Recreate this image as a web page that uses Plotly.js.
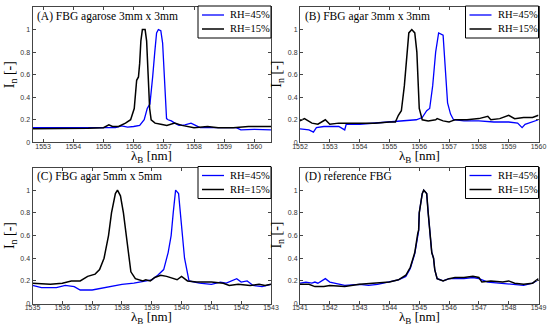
<!DOCTYPE html>
<html><head><meta charset="utf-8">
<script src="https://cdn.plot.ly/plotly-3.0.1.min.js"></script>
<style>html,body{margin:0;padding:0;background:#fff}#plot{width:550px;height:334px}</style>
</head><body><div id="plot"></div>
<script>
// Panel A: FBG agarose 3mm x 3mm
const A_x45 = [1552.65,1553.0,1553.5,1554.0,1554.5,1555.0,1555.4,1555.6,1555.8,1556.0,1556.2,1556.35,1556.45,1556.54,1556.6,1556.63,1556.7,1556.76,1556.82,1556.9,1556.96,1557.02,1557.09,1557.14,1557.25,1557.36,1557.5,1557.7,1557.9,1558.05,1558.2,1558.5,1559.0,1559.4,1559.55,1560.0,1560.55];
const A_y45 = [0.13,0.13,0.13,0.125,0.125,0.13,0.13,0.145,0.135,0.14,0.15,0.2,0.3,0.34,0.55,0.58,0.8,0.97,1.0,0.99,0.88,0.5,0.21,0.2,0.19,0.17,0.15,0.155,0.17,0.15,0.13,0.13,0.13,0.13,0.11,0.115,0.11];
const A_x15 = [1552.65,1553.0,1553.5,1554.0,1554.5,1555.0,1555.18,1555.3,1555.5,1555.73,1555.9,1556.02,1556.06,1556.1,1556.16,1556.2,1556.24,1556.29,1556.38,1556.43,1556.48,1556.53,1556.58,1556.71,1556.9,1557.1,1557.36,1557.6,1558.0,1558.45,1558.8,1559.3,1559.8,1560.2,1560.55];
const A_y15 = [0.12,0.12,0.12,0.125,0.125,0.13,0.155,0.14,0.14,0.17,0.2,0.3,0.4,0.55,0.58,0.7,0.9,1.0,1.0,0.9,0.6,0.3,0.2,0.17,0.16,0.15,0.17,0.15,0.13,0.14,0.13,0.13,0.14,0.14,0.14];
// Panel B: FBG agar 3mm x 3mm
const B_x45 = [1552.0,1552.3,1552.45,1552.55,1552.8,1553.3,1553.5,1553.55,1554.0,1554.5,1555.0,1555.5,1555.9,1556.1,1556.25,1556.35,1556.45,1556.55,1556.65,1556.8,1556.88,1556.95,1557.05,1557.15,1557.5,1558.0,1558.5,1559.0,1559.3,1559.45,1559.55,1559.8,1560.0];
const B_y45 = [0.12,0.11,0.09,0.13,0.14,0.14,0.11,0.16,0.16,0.17,0.18,0.19,0.2,0.22,0.28,0.3,0.5,0.8,0.97,0.95,0.6,0.35,0.25,0.2,0.19,0.19,0.18,0.18,0.17,0.13,0.16,0.18,0.2];
const B_x15 = [1552.0,1552.15,1552.4,1552.6,1552.85,1553.0,1553.3,1553.5,1554.0,1554.5,1555.0,1555.2,1555.3,1555.4,1555.5,1555.6,1555.65,1555.75,1555.85,1555.92,1555.97,1556.0,1556.1,1556.3,1556.55,1556.6,1556.8,1557.0,1557.1,1557.2,1557.6,1558.0,1558.3,1558.4,1558.7,1559.0,1559.2,1559.5,1559.8,1560.0];
const B_y15 = [0.19,0.21,0.17,0.16,0.2,0.16,0.17,0.17,0.17,0.17,0.18,0.18,0.24,0.28,0.5,0.8,0.97,1.0,0.97,0.8,0.5,0.3,0.2,0.19,0.2,0.21,0.19,0.18,0.19,0.2,0.2,0.21,0.23,0.2,0.21,0.24,0.21,0.22,0.22,0.24];
// Panel C: FBG agar 5mm x 5mm
const C_x45 = [1535.0,1535.3,1535.8,1536.1,1536.4,1536.6,1537.0,1537.4,1537.7,1538.0,1538.4,1538.8,1539.0,1539.2,1539.4,1539.55,1539.65,1539.72,1539.8,1539.9,1540.0,1540.05,1540.1,1540.25,1540.6,1541.0,1541.3,1541.5,1541.85,1542.0,1542.2,1542.4,1542.7,1543.0];
const C_y45 = [0.16,0.14,0.14,0.16,0.15,0.12,0.12,0.14,0.15,0.17,0.18,0.2,0.21,0.25,0.3,0.45,0.6,0.8,1.0,0.97,0.7,0.52,0.4,0.2,0.18,0.17,0.19,0.18,0.22,0.19,0.2,0.16,0.15,0.17];
const C_x15 = [1535.0,1535.6,1536.0,1536.3,1536.6,1536.85,1537.1,1537.25,1537.4,1537.55,1537.65,1537.78,1537.85,1537.95,1538.05,1538.15,1538.25,1538.3,1538.45,1538.7,1538.8,1538.95,1539.1,1539.3,1539.5,1539.7,1539.85,1540.0,1540.2,1540.5,1541.0,1541.4,1541.6,1541.9,1542.3,1542.6,1542.8,1543.0];
const C_y15 = [0.18,0.17,0.18,0.2,0.2,0.24,0.26,0.3,0.4,0.6,0.8,0.97,1.0,0.95,0.8,0.6,0.4,0.28,0.22,0.2,0.21,0.2,0.23,0.25,0.24,0.22,0.21,0.24,0.2,0.19,0.19,0.18,0.16,0.17,0.16,0.17,0.16,0.17];
// Panel D: reference FBG
const D_x45 = [1541.0,1541.2,1541.4,1541.5,1541.6,1541.85,1542.0,1542.2,1542.5,1543.0,1543.3,1543.6,1544.0,1544.3,1544.55,1544.7,1544.85,1544.95,1544.98,1545.0,1545.1,1545.15,1545.25,1545.3,1545.38,1545.42,1545.48,1545.52,1545.6,1545.8,1546.0,1546.5,1546.8,1547.0,1547.3,1547.8,1548.3,1548.5,1548.8,1549.0];
const D_y45 = [0.18,0.19,0.18,0.19,0.18,0.22,0.19,0.18,0.16,0.17,0.16,0.17,0.19,0.21,0.24,0.31,0.44,0.6,0.64,0.8,0.97,1.0,0.97,0.8,0.6,0.45,0.4,0.3,0.22,0.2,0.22,0.22,0.23,0.22,0.19,0.18,0.17,0.16,0.18,0.21];
const D_x15 = [1541.0,1541.3,1541.5,1541.8,1542.0,1542.5,1543.0,1543.5,1544.0,1544.3,1544.55,1544.7,1544.85,1544.95,1544.98,1545.0,1545.1,1545.15,1545.25,1545.3,1545.38,1545.42,1545.48,1545.52,1545.6,1545.8,1546.0,1546.2,1546.5,1546.8,1547.0,1547.1,1547.4,1547.8,1548.0,1548.2,1548.5,1548.8,1549.0];
const D_y15 = [0.17,0.17,0.15,0.15,0.16,0.15,0.17,0.18,0.19,0.21,0.25,0.32,0.45,0.62,0.65,0.8,0.97,1.0,0.97,0.8,0.6,0.45,0.4,0.3,0.22,0.2,0.22,0.23,0.23,0.24,0.23,0.19,0.2,0.19,0.2,0.18,0.17,0.18,0.22];

const panelTitles = ['(A) FBG agarose 3mm x 3mm','(B) FBG agar 3mm x 3mm','(C) FBG agar 5mm x 5mm','(D) reference FBG'];
const seriesNames = ['RH=45%','RH=15%'];
const seriesColors = ['#0000ff','#000000'];
const xRanges = [[1552.65,1560.55],[1552,1560],[1535,1543],[1541,1549]];
const xTicks = [[1553,1554,1555,1556,1557,1558,1559,1560],[1552,1553,1554,1555,1556,1557,1558,1559,1560],[1535,1536,1537,1538,1539,1540,1541,1542,1543],[1541,1542,1543,1544,1545,1546,1547,1548,1549]];
const yTicks = [0,0.2,0.4,0.6,0.8,1];
const yTickText = ['0','0.2','0.4','0.6','0.8','1'];
const xTitle = 'λ<sub>B</sub> [nm]';
const yTitle = 'I<sub>n</sub> [-]';

const W = 550, H = 334;
// plot boxes in pixels: [left, right, top, bottom]
const boxes = [[32.5,271,7,142.3],[300,538.5,7,142.3],[32.5,271,167.5,303.6],[300,538.5,167.5,303.6]];

const data45 = [[A_x45,A_y45],[B_x45,B_y45],[C_x45,C_y45],[D_x45,D_y45]];
const data15 = [[A_x15,A_y15],[B_x15,B_y15],[C_x15,C_y15],[D_x15,D_y15]];

const serif = 'Liberation Serif, Times New Roman, serif';
const sans = 'Liberation Sans, Arial, sans-serif';
const px = v => v / W;
const py = v => 1 - v / H;
const traces = [];
const layout = {width:W, height:H, margin:{l:0,r:0,t:0,b:0}, paper_bgcolor:'#fff', plot_bgcolor:'#fff', showlegend:false, annotations:[], shapes:[]};
for (let i=0;i<4;i++){
  const s = i===0?'':String(i+1);
  const [L,R,T,B] = boxes[i];
  traces.push({x:data45[i][0], y:data45[i][1], type:'scatter', mode:'lines', name:seriesNames[0], xaxis:'x'+s, yaxis:'y'+s, line:{color:seriesColors[0], width:1.3}});
  traces.push({x:data15[i][0], y:data15[i][1], type:'scatter', mode:'lines', name:seriesNames[1], xaxis:'x'+s, yaxis:'y'+s, line:{color:seriesColors[1], width:1.5}});
  layout['xaxis'+s] = {domain:[px(L),px(R)], range:xRanges[i], anchor:'y'+s, tickmode:'array', tickvals:xTicks[i], ticks:'inside', ticklen:3, tickcolor:'#444', showline:true, linecolor:'#444', linewidth:1, mirror:'ticks', showgrid:false, zeroline:false, ticklabelstandoff:-3, tickfont:{family:sans, size:7, color:'#333'}};
  layout['yaxis'+s] = {domain:[py(B),py(T)], range:[0,1.2], anchor:'x'+s, tickmode:'array', tickvals:yTicks, ticktext:yTickText, ticks:'inside', ticklen:3, tickcolor:'#444', showline:true, linecolor:'#444', linewidth:1, mirror:'ticks', showgrid:false, zeroline:false, tickfont:{family:sans, size:7, color:'#333'}};
  // axis titles
  layout.annotations.push({text:xTitle, xref:'paper', yref:'paper', x:px((L+R)/2), y:py(B+14), xanchor:'center', yanchor:'middle', showarrow:false, font:{family:serif, size:13, color:'#000'}});
  layout.annotations.push({text:yTitle, xref:'paper', yref:'paper', x:px(L-22), y:py((T+B)/2), xanchor:'center', yanchor:'middle', textangle:-90, showarrow:false, font:{family:serif, size:14, color:'#000'}});
  // panel title
  layout.annotations.push({text:panelTitles[i], xref:'paper', yref:'paper', x:px(L+2.5), y:py(T+9), xanchor:'left', yanchor:'middle', showarrow:false, font:{family:serif, size:11.5, color:'#000'}});
  // legend box
  const lL = R - 73, lT = T - 1, lB = T + 31;
  layout.shapes.push({type:'rect', xref:'paper', yref:'paper', x0:px(lL), x1:px(R), y0:py(lB), y1:py(lT), line:{color:'#000', width:1}, fillcolor:'#fff', layer:'above'});
  for (let k=0;k<2;k++){
    const yy = lT + 9 + k*14;
    layout.shapes.push({type:'line', xref:'paper', yref:'paper', x0:px(lL+4), x1:px(lL+26), y0:py(yy), y1:py(yy), line:{color:seriesColors[k], width:k===0?1.3:1.5}, layer:'above'});
    layout.annotations.push({text:seriesNames[k], xref:'paper', yref:'paper', x:px(lL+30), y:py(yy), xanchor:'left', yanchor:'middle', showarrow:false, font:{family:serif, size:10.5, color:'#000'}});
  }
}
Plotly.newPlot('plot', traces, layout, {staticPlot:true, displayModeBar:false});
</script></body></html>
